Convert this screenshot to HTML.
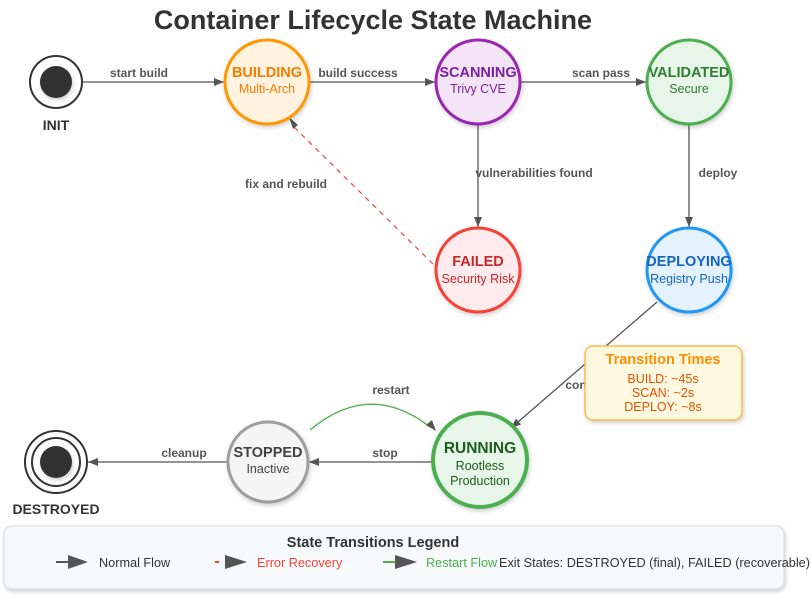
<!DOCTYPE html>
<html><head><meta charset="utf-8"><style>
body{margin:0;background:#fff;}
svg{display:block;font-family:"Liberation Sans",Arial,sans-serif;}
</style></head><body>
<svg width="812" height="598" viewBox="0 0 812 598" xmlns="http://www.w3.org/2000/svg">
<defs>
<marker id="ag" markerWidth="10" markerHeight="8" refX="10" refY="4" orient="auto" markerUnits="userSpaceOnUse"><path d="M0,0 L10,4 L0,8 z" fill="#555"/></marker>
<filter id="sh" x="-20%" y="-20%" width="140%" height="140%"><feDropShadow dx="1" dy="2" stdDeviation="2" flood-color="#000" flood-opacity="0.2"/></filter>
</defs>
<text x="373" y="29" text-anchor="middle" font-size="27" font-weight="bold" fill="#333">Container Lifecycle State Machine</text>

<g stroke="#555" stroke-width="1.3" fill="none">
<line x1="83" y1="82" x2="224" y2="82" marker-end="url(#ag)"/>
<line x1="310" y1="82" x2="435" y2="82" marker-end="url(#ag)"/>
<line x1="521" y1="82" x2="646" y2="82" marker-end="url(#ag)"/>
<line x1="478" y1="125" x2="478" y2="227" marker-end="url(#ag)"/>
<line x1="689" y1="125" x2="689" y2="227" marker-end="url(#ag)"/>
<line x1="657" y1="302" x2="511" y2="428" marker-end="url(#ag)"/>
<line x1="432" y1="462" x2="309" y2="462" marker-end="url(#ag)"/>
<line x1="228" y1="462" x2="88" y2="462" marker-end="url(#ag)"/>
</g>
<line x1="433" y1="264" x2="293" y2="126" stroke="#f44336" stroke-width="1.2" stroke-dasharray="5,5"/>
<path d="M298,125 L289,117 L293,129 z" fill="#555"/>
<path d="M310,430 Q370,380 430,427" stroke="#4caf50" stroke-width="1.3" fill="none"/>
<path d="M436,431 L426,425 L432,420 z" fill="#555"/>

<g font-size="12" font-weight="bold" fill="#555" text-anchor="middle">
<text x="139" y="77">start build</text>
<text x="358" y="77">build success</text>
<text x="601" y="77">scan pass</text>
<text x="534" y="177">vulnerabilities found</text>
<text x="718" y="177">deploy</text>
<text x="286" y="188">fix and rebuild</text>
<text x="391" y="394">restart</text>
<text x="385" y="457">stop</text>
<text x="184" y="457">cleanup</text>
<text x="576" y="389">con</text>
</g>

<circle cx="56" cy="82" r="26" fill="#fff" stroke="#333" stroke-width="2"/>
<circle cx="56" cy="82" r="16" fill="#333" filter="url(#sh)"/>
<text x="56" y="130" text-anchor="middle" font-size="14" font-weight="bold" fill="#333">INIT</text>

<g filter="url(#sh)" stroke-width="3">
<circle cx="267" cy="82" r="42" fill="#fff3e0" stroke="#ff9800"/>
<circle cx="478" cy="82" r="42" fill="#f3e5f5" stroke="#9c27b0"/>
<circle cx="689" cy="82" r="42" fill="#e8f5e9" stroke="#4caf50"/>
<circle cx="478" cy="270" r="42" fill="#ffebee" stroke="#f44336"/>
<circle cx="689" cy="270" r="42" fill="#e3f2fd" stroke="#2196f3"/>
<circle cx="480" cy="460" r="47" fill="#e8f5e9" stroke="#4caf50" stroke-width="4"/>
<circle cx="268" cy="462" r="40" fill="#f5f5f5" stroke="#9e9e9e"/>
</g>
<g text-anchor="middle">
<text x="267" y="77" font-size="14.5" font-weight="bold" fill="#f57c00">BUILDING</text>
<text x="267" y="93" font-size="12.5" fill="#f57c00">Multi-Arch</text>
<text x="478" y="77" font-size="14.5" font-weight="bold" fill="#7b1fa2">SCANNING</text>
<text x="478" y="93" font-size="12.5" fill="#7b1fa2">Trivy CVE</text>
<text x="689" y="77" font-size="14.5" font-weight="bold" fill="#2e7d32">VALIDATED</text>
<text x="689" y="93" font-size="12.5" fill="#2e7d32">Secure</text>
<text x="478" y="266" font-size="14.5" font-weight="bold" fill="#c62828">FAILED</text>
<text x="478" y="283" font-size="12.5" fill="#c62828">Security Risk</text>
<text x="689" y="266" font-size="14.5" font-weight="bold" fill="#1565c0">DEPLOYING</text>
<text x="689" y="283" font-size="12.5" fill="#1565c0">Registry Push</text>
<text x="480" y="453" font-size="15.5" font-weight="bold" fill="#1b5e20">RUNNING</text>
<text x="480" y="470" font-size="12.5" fill="#1b5e20">Rootless</text>
<text x="480" y="485" font-size="12.5" fill="#1b5e20">Production</text>
<text x="268" y="457" font-size="14.5" font-weight="bold" fill="#424242">STOPPED</text>
<text x="268" y="473" font-size="12.5" fill="#424242">Inactive</text>
</g>

<circle cx="56" cy="462" r="31" fill="#fff" stroke="#333" stroke-width="2"/>
<circle cx="56" cy="462" r="24" fill="#fff" stroke="#333" stroke-width="2"/>
<circle cx="56" cy="462" r="16" fill="#333" filter="url(#sh)"/>
<text x="56" y="514" text-anchor="middle" font-size="14" font-weight="bold" fill="#333">DESTROYED</text>

<rect x="585" y="346" width="157" height="74" rx="8" fill="#fff8e1" stroke="#ffb74d" stroke-width="1.5" filter="url(#sh)"/>
<g text-anchor="middle">
<text x="663" y="364" font-size="14.5" font-weight="bold" fill="#ff8f00">Transition Times</text>
<text x="663" y="383" font-size="12.5" fill="#e65100">BUILD: ~45s</text>
<text x="663" y="397" font-size="12.5" fill="#e65100">SCAN: ~2s</text>
<text x="663" y="411" font-size="12.5" fill="#e65100">DEPLOY: ~8s</text>
</g>

<rect x="4" y="526" width="780" height="63" rx="8" fill="#f8f9fa" stroke="#ddd" filter="url(#sh)"/>
<text x="373" y="547" text-anchor="middle" font-size="14.5" font-weight="bold" fill="#333">State Transitions Legend</text>
<line x1="56" y1="562" x2="70" y2="562" stroke="#555" stroke-width="2"/>
<path d="M68,555 L88,562 L68,569 z" fill="#555"/>
<text x="99" y="567" font-size="12.7" fill="#333">Normal Flow</text>
<line x1="215" y1="562" x2="219" y2="562" stroke="#f44336" stroke-width="2"/>
<path d="M225,555 L247,562 L225,569 z" fill="#555"/>
<text x="257" y="567" font-size="12.7" fill="#f44336">Error Recovery</text>
<line x1="383" y1="562" x2="397" y2="562" stroke="#4caf50" stroke-width="2"/>
<path d="M395,555 L417,562 L395,569 z" fill="#555"/>
<text x="426" y="567" font-size="12.7" fill="#4caf50">Restart Flow</text>
<text x="499" y="567" font-size="12.7" fill="#333">Exit States: DESTROYED (final), FAILED (recoverable)</text>
</svg>
</body></html>
